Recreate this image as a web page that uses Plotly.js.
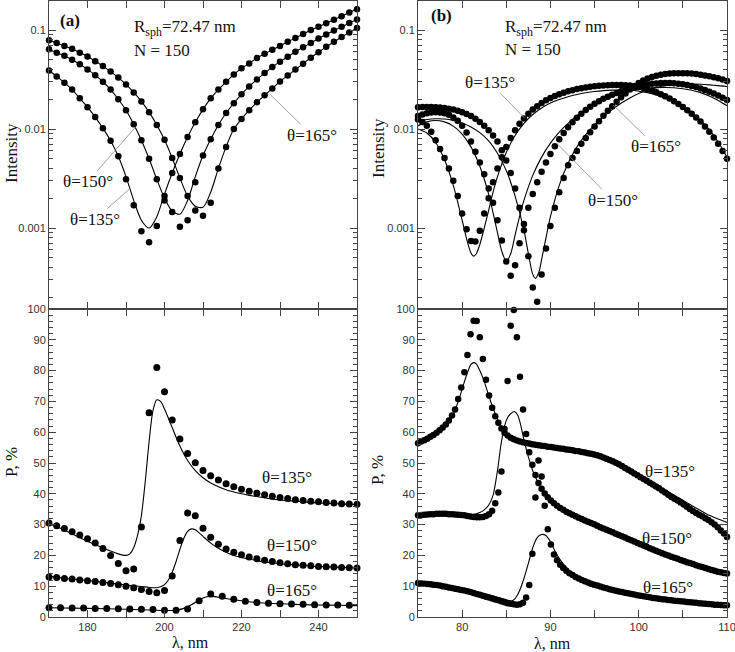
<!DOCTYPE html>
<html><head><meta charset="utf-8">
<script src="https://cdn.plot.ly/plotly-3.0.1.min.js"></script>
<style>html,body{margin:0;padding:0;background:#fff}#chart{width:735px;height:652px}</style>
</head><body><div id="chart"></div>
<script>
// ---------- (a) top: intensity, 2 nm grid ----------
const aTopX = [170,172,174,176,178,180,182,184,186,188,190,192,194,196,198,200,202,204,206,208,210,212,214,216,218,220,222,224,226,228,230,232,234,236,238,240,242,244,246,248,250];
const aTop135Line = [0.039,0.034,0.0294,0.025,0.0204,0.0166,0.0132,0.0102,0.0076,0.0053,0.0033,0.0019,0.0012,0.0010,0.0013,0.0022,0.0036,0.0056,0.0083,0.0117,0.0158,0.0204,0.025,0.030,0.0355,0.041,0.046,0.052,0.0575,0.063,0.069,0.076,0.083,0.091,0.100,0.108,0.117,0.127,0.138,0.150,0.162];
const aTop135Dots = [0.039,0.034,0.0294,0.025,0.0204,0.0166,0.0132,0.0102,0.0076,0.0053,0.0031,0.0017,0.00093,0.00072,0.00105,0.0021,0.0036,0.0056,0.0083,0.0117,0.0158,0.0204,0.025,0.030,0.0355,0.041,0.046,0.052,0.0575,0.063,0.069,0.076,0.083,0.091,0.100,0.108,0.117,0.127,0.138,0.150,0.162];
const aTop150Line = [0.064,0.059,0.055,0.050,0.045,0.040,0.035,0.030,0.025,0.020,0.0155,0.0112,0.0077,0.0050,0.0031,0.0020,0.00148,0.00138,0.0019,0.0033,0.0054,0.0079,0.011,0.0145,0.0182,0.0224,0.0269,0.0316,0.0367,0.0422,0.0479,0.0537,0.0603,0.0668,0.0741,0.0822,0.0902,0.0989,0.1076,0.1175,0.128];
const aTop150Dots = [0.064,0.059,0.055,0.050,0.045,0.040,0.035,0.030,0.025,0.020,0.0155,0.0112,0.0077,0.0050,0.0031,0.0019,0.00145,0.00103,0.0012,0.0029,0.0054,0.0079,0.011,0.0145,0.0182,0.0224,0.0269,0.0316,0.0367,0.0422,0.0479,0.0537,0.0603,0.0668,0.0741,0.0822,0.0902,0.0989,0.1076,0.1175,0.128];
const aTop165Line = [0.079,0.074,0.069,0.0645,0.059,0.054,0.0484,0.0432,0.038,0.0331,0.0282,0.0234,0.019,0.0148,0.011,0.0078,0.0051,0.0032,0.0021,0.00166,0.00162,0.0023,0.0040,0.0066,0.010,0.0126,0.0155,0.0186,0.0219,0.0257,0.0302,0.0347,0.0398,0.0457,0.0525,0.0596,0.0676,0.0759,0.0851,0.0944,0.1047];
const aTop165Dots = [0.079,0.074,0.069,0.0645,0.059,0.054,0.0484,0.0432,0.038,0.0331,0.0282,0.0234,0.019,0.0148,0.011,0.0078,0.0051,0.0032,0.0021,0.0015,0.00133,0.0018,0.0040,0.0066,0.010,0.0126,0.0155,0.0186,0.0219,0.0257,0.0302,0.0347,0.0398,0.0457,0.0525,0.0596,0.0676,0.0759,0.0851,0.0944,0.1047];

// ---------- (a) bottom: polarization ----------
const aBotX = aTopX;
const aBot135Dots = [30.5,29.6,28.7,27.7,26.6,25.4,24.0,22.2,20.0,17.4,15.0,15.6,29.2,66.3,81.0,73.1,64.0,57.8,53.1,50.1,47.6,45.9,44.5,43.3,42.3,41.5,40.8,40.2,39.7,39.2,38.8,38.5,38.1,37.8,37.6,37.4,37.2,37.0,36.8,36.7,36.6];
const aBot150Dots = [13.0,12.8,12.5,12.3,12.0,11.8,11.5,11.2,10.9,10.5,10.0,9.5,8.9,8.3,7.9,8.6,13.3,24.8,33.8,32.9,28.8,25.9,23.6,22.1,21.0,20.2,19.5,18.9,18.4,18.0,17.6,17.3,17.0,16.8,16.6,16.4,16.3,16.2,16.1,16.0,15.9];
const aBot165X = [170,173,176,179,182,185,188,191,194,197,200,203,206,209,212,215,218,221,224,227,230,233,236,239,242,245,248];
const aBot165Dots = [3.0,3.0,2.9,2.9,2.8,2.8,2.7,2.6,2.5,2.4,2.2,2.2,2.6,5.3,7.5,6.7,5.8,5.1,4.7,4.5,4.3,4.2,4.1,4.0,3.9,3.9,3.8];
const aBot135LineX = [170,172,174,176,178,180,182,184,186,188,190,191,192,193,194,195,196,197,198,199,200,202,204,206,208,210,212,214,216,218,220,222,224,226,228,230,232,234,236,238,240,242,244,246,248,250];
const aBot135Line = [30.3,29.3,28.2,27.0,25.8,24.6,23.5,22.5,21.4,20.5,20.0,20.5,22.5,26.5,33,44,57,67,70.5,70,67.5,61.5,55.5,50.8,47.5,45.2,43.5,42.3,41.3,40.6,40.0,39.5,39.1,38.7,38.3,38.0,37.8,37.6,37.4,37.2,37.0,36.9,36.8,36.7,36.6,36.5];
const aBot150LineX = [170,174,178,182,186,190,194,196,198,199,200,201,202,203,204,205,206,207,208,209,210,212,214,216,218,220,222,224,226,228,230,234,238,242,246,250];
const aBot150Line = [13.2,12.6,12.1,11.6,11.0,10.4,9.9,9.6,9.5,9.8,10.5,12.0,14.5,18,22,25.5,27.8,28.6,28.3,27.3,26.2,24.0,22.3,21.0,20.0,19.3,18.8,18.3,17.9,17.6,17.3,16.9,16.5,16.3,16.1,15.9];
const aBot165LineX = [170,180,190,200,203,205,207,209,210,211,212,213,215,218,221,224,228,232,236,240,245,250];
const aBot165Line = [3.0,2.8,2.5,2.1,2.2,2.8,4.0,5.5,6.2,6.6,6.7,6.6,6.2,5.6,5.1,4.7,4.4,4.2,4.0,3.9,3.8,3.7];

// ---------- (b) top: intensity, 0.5 nm grid ----------
const bTopX = [75,75.5,76,76.5,77,77.5,78,78.5,79,79.5,80,80.5,81,81.5,82,82.5,83,83.5,84,84.5,85,85.5,86,86.5,87,87.5,88,88.5,89,89.5,90,90.5,91,91.5,92,92.5,93,93.5,94,94.5,95,95.5,96,96.5,97,97.5,98,98.5,99,99.5,100,100.5,101,101.5,102,102.5,103,103.5,104,104.5,105,105.5,106,106.5,107,107.5,108,108.5,109,109.5,110];
const bTop135Dots = [0.0125,0.0118,0.0108,0.0094,0.0077,0.0063,0.0051,0.0040,0.0030,0.0021,0.0014,0.00097,0.00074,0.00073,0.00094,0.0014,0.0020,0.0029,0.0040,0.0052,0.0066,0.0081,0.0097,0.0113,0.0128,0.0143,0.0157,0.0170,0.0183,0.0195,0.0206,0.0216,0.0225,0.0233,0.0240,0.0247,0.0253,0.0258,0.0263,0.0267,0.0270,0.0273,0.0275,0.0277,0.0278,0.0278,0.0278,0.0277,0.0275,0.0271,0.0266,0.0260,0.0252,0.0244,0.0235,0.0225,0.0214,0.0203,0.0191,0.0179,0.0167,0.0155,0.0143,0.0131,0.0119,0.0106,0.0094,0.0082,0.0071,0.0060,0.0050];
const bTop150Dots = [0.0135,0.0140,0.0144,0.0147,0.0148,0.0147,0.0144,0.0139,0.0131,0.0121,0.0108,0.0092,0.0075,0.0059,0.0046,0.0035,0.0025,0.0018,0.0012,0.00075,0.00046,0.00033,0.00042,0.0007,0.0011,0.0016,0.0022,0.0029,0.0037,0.0046,0.0056,0.0067,0.0079,0.0091,0.0104,0.0117,0.0130,0.0143,0.0156,0.0168,0.0180,0.0191,0.0202,0.0212,0.0222,0.0231,0.0240,0.0248,0.0256,0.0264,0.0271,0.0277,0.0282,0.0286,0.0289,0.0291,0.0292,0.0292,0.0290,0.0287,0.0283,0.0278,0.0272,0.0265,0.0257,0.0248,0.0238,0.0228,0.0218,0.0207,0.0196];
const bTop165Dots = [0.0166,0.0167,0.0167,0.0167,0.0166,0.0165,0.0163,0.0160,0.0157,0.0153,0.0148,0.0142,0.0135,0.0127,0.0118,0.0108,0.0097,0.0086,0.0075,0.0061,0.0048,0.0036,0.0025,0.0016,0.00095,0.00052,0.00025,0.00018,0.00034,0.00062,0.00105,0.0016,0.0023,0.0032,0.0043,0.0051,0.0060,0.0071,0.0081,0.0093,0.0106,0.0120,0.0136,0.0153,0.0170,0.0188,0.0209,0.0229,0.0251,0.0272,0.0292,0.0309,0.0324,0.0335,0.0345,0.0353,0.0359,0.0363,0.0366,0.0366,0.0366,0.0365,0.0363,0.0359,0.0354,0.0348,0.0341,0.0333,0.0325,0.0316,0.0305];
const bTop135LineX = [75,76,77,78,79,80,80.5,81,81.3,81.6,82,82.5,83,83.5,84,85,86,87,88,89,90,91,92,93,94,95,96,97,98,99,100,101,102,103,104,105,106,107,108,109,110];
const bTop135Line = [0.0100,0.0091,0.0073,0.0049,0.0027,0.0012,0.00078,0.00056,0.00052,0.00055,0.00068,0.0010,0.0015,0.0023,0.0033,0.0058,0.0086,0.0114,0.0140,0.0163,0.0183,0.0199,0.0212,0.0223,0.0232,0.0239,0.0244,0.0247,0.0248,0.0246,0.0241,0.0233,0.0221,0.0206,0.0189,0.0168,0.0146,0.0122,0.0098,0.0074,0.0052];
const bTop150LineX = [75,76,77,78,79,80,81,82,83,84,84.5,85,85.5,86,86.5,87,88,89,90,91,92,93,94,95,96,97,98,99,100,101,102,103,104,105,106,107,108,109,110];
const bTop150Line = [0.0108,0.0118,0.0122,0.0118,0.0107,0.0089,0.0066,0.0042,0.0022,0.0009,0.00058,0.00046,0.00055,0.00085,0.0013,0.0019,0.0034,0.0052,0.0072,0.0093,0.0114,0.0136,0.0157,0.0177,0.0196,0.0213,0.0228,0.0241,0.0251,0.0258,0.0262,0.0263,0.0261,0.0255,0.0246,0.0233,0.0215,0.0194,0.0172];
const bTop165LineX = [75,76,77,78,79,80,81,82,83,84,85,86,87,87.5,88,88.3,88.7,89,89.5,90,91,92,93,94,95,96,97,98,99,100,101,102,103,104,105,106,107,108,109,110];
const bTop165Line = [0.0120,0.0125,0.0127,0.0126,0.0122,0.0115,0.0105,0.0092,0.0076,0.0057,0.0038,0.0021,0.00095,0.00055,0.00034,0.00031,0.00036,0.00048,0.0008,0.0013,0.0027,0.0045,0.0066,0.0088,0.0110,0.0133,0.0157,0.0182,0.0206,0.0228,0.0247,0.0262,0.0273,0.0280,0.0284,0.0285,0.0283,0.0279,0.0274,0.0268];

// ---------- (b) bottom: polarization, 0.35 nm grid ----------
const bBotX = [75.00,75.35,75.70,76.05,76.40,76.75,77.10,77.45,77.80,78.15,78.50,78.85,79.20,79.55,79.90,80.25,80.60,80.95,81.30,81.65,82.00,82.35,82.70,83.05,83.40,83.75,84.10,84.45,84.80,85.15,85.50,85.85,86.20,86.55,86.90,87.25,87.60,87.95,88.30,88.65,89.00,89.35,89.70,90.05,90.40,90.75,91.10,91.45,91.80,92.15,92.50,92.85,93.20,93.55,93.90,94.25,94.60,94.95,95.30,95.65,96.00,96.35,96.70,97.05,97.40,97.75,98.10,98.45,98.80,99.15,99.50,99.85,100.20,100.55,100.90,101.25,101.60,101.95,102.30,102.65,103.00,103.35,103.70,104.05,104.40,104.75,105.10,105.45,105.80,106.15,106.50,106.85,107.20,107.55,107.90,108.25,108.60,108.95,109.30,109.65,110.00];
const bBot135Dots = [56.4,57.0,57.4,57.9,58.5,59.1,59.8,60.6,61.5,62.5,63.8,65.4,67.4,70.8,74.5,79.5,85.1,91.8,96.2,96.1,90.8,83.8,77.0,71.9,67.9,65.2,63.1,61.2,59.8,58.9,58.2,57.7,57.3,57.0,56.7,56.5,56.3,56.1,55.9,55.8,55.6,55.5,55.3,55.2,55.0,54.9,54.7,54.6,54.4,54.3,54.1,53.9,53.8,53.6,53.4,53.2,53.0,52.8,52.5,52.2,51.8,51.4,51.0,50.6,50.1,49.6,49.0,48.4,47.8,47.2,46.6,46.0,45.4,44.8,44.2,43.6,43.0,42.4,41.8,41.1,40.4,39.7,39.0,38.4,37.8,37.2,36.5,35.8,35.1,34.4,33.8,33.2,32.7,32.1,31.5,30.8,30.0,29.1,28.1,27.1,26.0];
const bBot150Dots = [33.0,33.1,33.2,33.3,33.4,33.4,33.5,33.5,33.5,33.5,33.4,33.4,33.3,33.2,33.1,33.0,32.8,32.6,32.5,32.4,32.4,32.5,32.8,33.4,34.5,36.9,40.4,47.2,61.0,76.6,94.6,99.7,90.8,78.0,67.4,59.4,53.5,49.4,46.1,43.5,41.6,40.1,38.9,37.8,36.9,36.1,35.4,34.8,34.2,33.7,33.2,32.7,32.2,31.8,31.3,30.9,30.5,30.1,29.6,29.1,28.7,28.3,27.9,27.5,27.0,26.6,26.2,25.8,25.3,24.9,24.5,24.0,23.6,23.2,22.8,22.3,21.9,21.5,21.1,20.7,20.3,20.0,19.6,19.2,18.9,18.5,18.2,17.8,17.5,17.2,16.8,16.5,16.2,15.9,15.6,15.3,15.0,14.7,14.5,14.3,14.1];
const bBot165Dots = [11.0,10.9,10.8,10.7,10.6,10.5,10.4,10.2,10.0,9.8,9.6,9.4,9.2,9.0,8.8,8.6,8.4,8.1,7.8,7.5,7.2,6.9,6.6,6.3,6.0,5.7,5.4,5.1,4.8,4.5,4.3,4.1,4.0,4.1,4.6,6.3,10.4,20.5,38.8,50.8,45.6,36.1,28.5,23.5,20.3,18.4,17.0,15.9,15.0,14.2,13.6,13.0,12.5,12.0,11.6,11.2,10.8,10.5,10.2,9.9,9.6,9.3,9.0,8.8,8.5,8.3,8.1,7.9,7.7,7.5,7.3,7.1,6.9,6.7,6.6,6.4,6.2,6.1,5.9,5.8,5.7,5.5,5.4,5.3,5.2,5.1,5.0,4.9,4.8,4.7,4.6,4.5,4.4,4.3,4.2,4.1,4.0,3.95,3.9,3.85,3.8];
const bBot135LineX = [75,76,77,78,79,79.5,80,80.5,81,81.3,81.6,82,82.5,83,83.5,84,84.5,85,86,87,88,90,92,94,96,98,100,102,104,106,107,108,109,110];
const bBot135Line = [56.5,57.5,59.0,61.5,66.0,69.5,74.0,78.5,82.0,82.6,82.2,80.0,76.5,72.0,67.8,64.3,61.6,59.8,57.8,56.8,56.1,55.1,54.2,53.1,51.6,49.3,46.0,42.8,39.6,36.2,34.6,33.0,31.8,30.7];
const bBot150LineX = [75,77,79,80,81,81.5,82,82.5,83,83.5,84,84.4,84.8,85.2,85.5,85.9,86.3,86.7,87,87.5,88,88.5,89,90,91,92,94,96,98,100,104,110];
const bBot150Line = [33.2,33.5,33.4,33.2,33.2,33.4,33.9,34.8,36.3,39.5,47.5,56.0,62.0,65.0,66.0,66.7,65.5,61.5,57.5,52.0,47.5,44.2,41.8,38.2,35.8,33.8,30.8,28.2,26.0,23.8,19.6,14.2];
const bBot165LineX = [75,77,79,81,83,84,85,85.6,86,86.5,87,87.5,88,88.5,89,89.4,90,90.5,91,92,93,95,98,100,105,110];
const bBot165Line = [11.0,10.5,9.7,8.6,7.2,6.4,5.6,5.2,6.0,8.5,12.5,17.4,22.5,25.8,26.8,26.6,24.5,21.5,19.0,15.5,13.2,10.9,8.3,7.1,5.1,3.8];

// ---------- layout helpers ----------
const W = 735, H = 652;
const px = v => v / W, py = v => 1 - v / H;
const serif = 'Liberation Serif, Times New Roman, serif';
const sans = 'Liberation Sans, Arial, sans-serif';
const AX = '#444';

function dots(x, y, xa, ya, size) {
  return {x, y, xaxis: xa, yaxis: ya, type: 'scatter', mode: 'markers', cliponaxis: false,
          marker: {color: '#000', size: size || 6.5}, hoverinfo: 'skip', showlegend: false};
}
function line(x, y, xa, ya) {
  return {x, y, xaxis: xa, yaxis: ya, type: 'scatter', mode: 'lines',
          line: {color: '#000', width: 1.1, shape: 'spline', smoothing: 0.8}, hoverinfo: 'skip', showlegend: false};
}

const traces = [
  line(aTopX, aTop135Line, 'x', 'y'), dots(aTopX, aTop135Dots, 'x', 'y'),
  line(aTopX, aTop150Line, 'x', 'y'), dots(aTopX, aTop150Dots, 'x', 'y'),
  line(aTopX, aTop165Line, 'x', 'y'), dots(aTopX, aTop165Dots, 'x', 'y'),
  line(bTop135LineX, bTop135Line, 'x2', 'y2'), dots(bTopX, bTop135Dots, 'x2', 'y2'),
  line(bTop150LineX, bTop150Line, 'x2', 'y2'), dots(bTopX, bTop150Dots, 'x2', 'y2'),
  line(bTop165LineX, bTop165Line, 'x2', 'y2'), dots(bTopX, bTop165Dots, 'x2', 'y2'),
  line(aBot135LineX, aBot135Line, 'x3', 'y3'), dots(aBotX, aBot135Dots, 'x3', 'y3', 7),
  line(aBot150LineX, aBot150Line, 'x3', 'y3'), dots(aBotX, aBot150Dots, 'x3', 'y3', 7),
  line(aBot165LineX, aBot165Line, 'x3', 'y3'), dots(aBot165X, aBot165Dots, 'x3', 'y3', 7),
  line(bBot135LineX, bBot135Line, 'x4', 'y4'), dots(bBotX, bBot135Dots, 'x4', 'y4'),
  line(bBot150LineX, bBot150Line, 'x4', 'y4'), dots(bBotX, bBot150Dots, 'x4', 'y4'),
  line(bBot165LineX, bBot165Line, 'x4', 'y4'), dots(bBotX, bBot165Dots, 'x4', 'y4')
];

const logMinor = [];
[1e-4, 1e-3, 1e-2, 1e-1].forEach(d => { for (let m = 2; m <= 9; m++) logMinor.push(m * d); });

const base = {showline: true, linecolor: AX, linewidth: 1, mirror: 'ticks', ticks: 'inside',
              tickcolor: AX, tickwidth: 1, showgrid: false, zeroline: false, fixedrange: true,
              ticklabeloverflow: 'allow',
              tickfont: {family: sans, size: 11, color: '#333'}};
const leftXD = [px(49), px(357)], rightXD = [px(418), px(727)];
const topYD = [py(309), py(1)], botYD = [py(617), py(309)];
const aTicks = [170,180,190,200,210,220,230,240,250];
const bTicks = [75,80,85,90,95,100,105,110];
const aLabeled = [180,200,220,240], aUnlabeled = [170,190,210,230,250];
const bLabeled = [80,90,100,110], bUnlabeled = [75,85,95,105];
const logAxis = (dom, anchor) => Object.assign({}, base, {domain: dom, anchor, type: 'log',
  range: [-3.818, -0.707], tickmode: 'array', tickvals: [0.001, 0.01, 0.1], ticktext: ['0.001','0.01','0.1'],
  ticklen: 7, minor: {tickmode: 'array', tickvals: logMinor, ticks: 'inside', ticklen: 4, tickcolor: AX}});
const pAxis = (dom, anchor) => Object.assign({}, base, {domain: dom, anchor, range: [0, 100],
  tickmode: 'linear', tick0: 0, dtick: 10, ticklen: 7,
  minor: {tickmode: 'linear', tick0: 0, dtick: 2, ticks: 'inside', ticklen: 4, tickcolor: AX}});
const xTop = (dom, anchor, range, vals) => Object.assign({}, base, {domain: dom, anchor, range,
  tickmode: 'array', tickvals: vals, showticklabels: false, ticklen: 7});
const xBot = (dom, anchor, range, lab, unlab) => Object.assign({}, base, {domain: dom, anchor, range,
  tickmode: 'array', tickvals: lab, ticktext: lab.map(String), ticklen: 7,
  minor: {tickmode: 'array', tickvals: unlab, ticks: 'inside', ticklen: 7, tickcolor: AX}});

const layout = {
  width: W, height: H, margin: {l: 0, r: 0, t: 0, b: 0}, paper_bgcolor: '#fff', plot_bgcolor: '#fff',
  showlegend: false,
  xaxis: xTop(leftXD, 'y', [170, 250], aTicks),
  yaxis: logAxis(topYD, 'x'),
  xaxis2: xTop(rightXD, 'y2', [75, 110], bTicks),
  yaxis2: logAxis(topYD, 'x2'),
  xaxis3: xBot(leftXD, 'y3', [170, 250], aLabeled, aUnlabeled),
  yaxis3: pAxis(botYD, 'x3'),
  xaxis4: xBot(rightXD, 'y4', [75, 110], bLabeled, bUnlabeled),
  yaxis4: pAxis(botYD, 'x4'),
  annotations: []
};

const A = layout.annotations;
const txt = (x, y, text, opts) => A.push(Object.assign({xref: 'paper', yref: 'paper', x: px(x), y: py(y), text,
  xanchor: 'center', yanchor: 'middle', showarrow: false, font: {family: serif, size: 17, color: '#111'}}, opts || {}));
// panel tags and parameters
txt(70, 20, '<b>(a)</b>');
txt(442, 16, '<b>(b)</b>');
txt(132, 28, 'R<sub>sph</sub>=72.47 nm', {xanchor: 'left'});
txt(132, 50, 'N = 150', {xanchor: 'left'});
txt(503, 28, 'R<sub>sph</sub>=72.47 nm', {xanchor: 'left'});
txt(503, 49, 'N = 150', {xanchor: 'left'});
// axis titles
txt(12, 153, 'Intensity', {textangle: -90});
txt(11, 462, 'P, %', {textangle: -90});
txt(378, 148, 'Intensity', {textangle: -90});
txt(378, 470, 'P, %', {textangle: -90});
txt(190, 642, 'λ, nm', {font: {family: serif, size: 16, color: '#111'}});
txt(552, 643, 'λ, nm', {font: {family: serif, size: 16, color: '#111'}});
// bottom-panel curve labels
txt(287, 477, 'θ=135°'); txt(292, 545, 'θ=150°'); txt(292, 590, 'θ=165°');
txt(670, 471, 'θ=135°'); txt(667, 538, 'θ=150°'); txt(668, 587, 'θ=165°');
// top-panel curve labels with pointer lines
const ptr = (xa, ya, x, v, ax, ay, text) => A.push({xref: xa, yref: ya, x, y: Math.log10(v), ax, ay, text,
  xanchor: 'center', yanchor: 'middle',
  showarrow: true, arrowhead: 0, arrowwidth: 0.8, arrowcolor: '#888', standoff: 0, startstandoff: 0,
  font: {family: serif, size: 17, color: '#111'}});
ptr('x', 'y', 227.4, 0.0224, 42, 41, 'θ=165°');
ptr('x', 'y', 192.5, 0.0105, -48, 55, 'θ=150°');
ptr('x', 'y', 191, 0.0025, -35, 31, 'θ=135°');
ptr('x2', 'y2', 87.1, 0.0128, -35, -36, 'θ=135°');
ptr('x2', 'y2', 97.1, 0.0175, 43, 42, 'θ=165°');
ptr('x2', 'y2', 90.7, 0.0072, 56, 57, 'θ=150°');

Plotly.newPlot('chart', traces, layout, {staticPlot: true, displayModeBar: false});
</script></body></html>
